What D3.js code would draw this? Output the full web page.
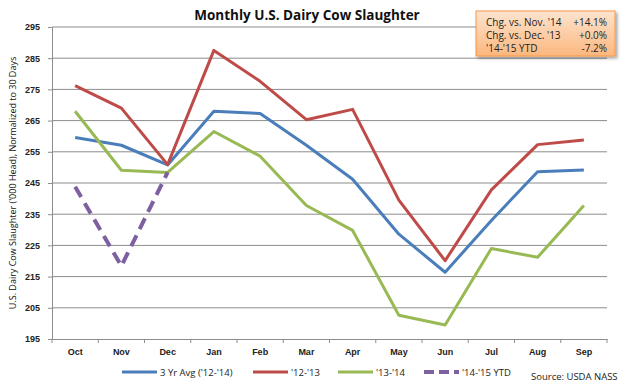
<!DOCTYPE html>
<html lang="en">
<head>
  <meta charset="UTF-8">
  <script src="https://cdn.jsdelivr.net/npm/d3@7"></script>
  <title>Monthly U.S. Dairy Cow Slaughter</title>
  <style>
    body { margin: 0; background: #fff; }
    svg { font-family: "Open Sans", "DejaVu Sans", sans-serif; }
    .tick text { font-weight: bold; font-size: 9px; fill: #222; }
  </style>
</head>
<body>
  <div class="fig"></div>
  <script>
    // ------------------ data ------------------
    const months = ["Oct", "Nov", "Dec", "Jan", "Feb", "Mar", "Apr", "May", "Jun", "Jul", "Aug", "Sep"];
    const avg3yr = [259.6, 257.1, 250.8, 268.0, 267.3, 257.1, 246.2, 228.6, 216.4, 233.0, 248.6, 249.2];
    const y1213 = [276.2, 269.0, 250.9, 287.5, 277.6, 265.3, 268.6, 239.5, 220.1, 242.8, 257.3, 258.8];
    const y1314 = [268.0, 249.1, 248.4, 261.5, 253.6, 237.8, 229.8, 202.6, 199.5, 224.0, 221.2, 237.8];
    const y1415 = [243.8, 218.4, 248.4];
    const yTicks = [195, 205, 215, 225, 235, 245, 255, 265, 275, 285, 295];
    const boxRows = [["Chg. vs. Nov. '14", "+14.1%"], ["Chg. vs. Dec. '13", "+0.0%"], ["'14-'15 YTD", "-7.2%"]];

    const series = [
      { name: "3 Yr Avg ('12-'14)", values: avg3yr, color: "#4a7ebb", dash: null },
      { name: "'12-'13", values: y1213, color: "#be4b48", dash: null },
      { name: "'13-'14", values: y1314, color: "#98b954", dash: null },
      { name: "'14-'15 YTD", values: y1415, color: "#7d60a0", dash: "12,7" }
    ];

    // ------------------ layout ------------------
    const width = 628, height = 388;
    const plot = { left: 52, right: 607, top: 27, bottom: 339 };

    const svg = d3.select(".fig").append("svg")
      .attr("width", width)
      .attr("height", height);

    const x = d3.scaleBand().domain(months).range([plot.left, plot.right]);
    const y = d3.scaleLinear().domain([195, 295]).range([plot.bottom, plot.top]);

    // gridlines
    svg.append("g")
      .selectAll("line")
      .data(yTicks.slice(1))
      .enter().append("line")
      .attr("x1", plot.left).attr("x2", plot.right)
      .attr("y1", d => y(d)).attr("y2", d => y(d))
      .attr("stroke", "#8c8c8c").attr("stroke-width", 1);

    // y axis
    const yAxis = svg.append("g")
      .attr("transform", `translate(${plot.left},0)`)
      .call(d3.axisLeft(y).tickValues(yTicks).tickSize(4).tickPadding(8));
    yAxis.selectAll("line, path").attr("stroke", "#8c8c8c");

    // x axis with ticks at category boundaries
    const xAxis = svg.append("g")
      .attr("transform", `translate(0,${plot.bottom})`)
      .call(d3.axisBottom(x).tickSize(0).tickPadding(10));
    xAxis.select("path").attr("stroke", "#8c8c8c");
    xAxis.selectAll(".bound")
      .data(months.map(m => x(m)).concat([plot.right]))
      .enter().append("line")
      .attr("x1", d => d).attr("x2", d => d)
      .attr("y1", 0).attr("y2", 4)
      .attr("stroke", "#8c8c8c");

    // lines
    const line = d3.line()
      .x((d, i) => x(months[i]) + x.bandwidth() / 2)
      .y(d => y(d));

    series.forEach(s => {
      svg.append("path")
        .datum(s.values)
        .attr("d", line)
        .attr("fill", "none")
        .attr("stroke", s.color)
        .attr("stroke-width", s.dash ? 4 : 3)
        .attr("stroke-dasharray", s.dash)
        .attr("stroke-linejoin", "round");
    });

    // title
    svg.append("text")
      .attr("x", 307).attr("y", 20)
      .attr("text-anchor", "middle")
      .attr("font-size", 13.5).attr("font-weight", "bold")
      .attr("fill", "#111")
      .text("Monthly U.S. Dairy Cow Slaughter");

    // y axis title
    svg.append("text")
      .attr("transform", "translate(16,183) rotate(-90)")
      .attr("text-anchor", "middle")
      .attr("font-size", 9)
      .attr("fill", "#111")
      .text("U.S. Dairy Cow Slaughter ('000 Head), Normalized to 30 Days");

    // info box
    const defs = svg.append("defs");
    const grad = defs.append("linearGradient").attr("id", "boxGrad")
      .attr("x1", 0).attr("y1", 0).attr("x2", 0).attr("y2", 1);
    grad.append("stop").attr("offset", "0%").attr("stop-color", "#fde4cf");
    grad.append("stop").attr("offset", "100%").attr("stop-color", "#fbb77e");
    const shadow = defs.append("filter").attr("id", "shadow")
      .attr("x", "-10%").attr("y", "-10%").attr("width", "130%").attr("height", "140%");
    shadow.append("feDropShadow").attr("dx", 2).attr("dy", 2).attr("stdDeviation", 1.5)
      .attr("flood-color", "#000").attr("flood-opacity", 0.35);

    const box = svg.append("g").attr("transform", "translate(476,11)");
    box.append("rect")
      .attr("width", 139).attr("height", 45)
      .attr("fill", "url(#boxGrad)")
      .attr("stroke", "#f79646").attr("stroke-width", 1)
      .attr("filter", "url(#shadow)");
    boxRows.forEach((r, i) => {
      box.append("text").attr("x", 10).attr("y", 14.5 + i * 13)
        .attr("font-size", 10).attr("fill", "#222").text(r[0]);
      box.append("text").attr("x", 131).attr("y", 14.5 + i * 13)
        .attr("text-anchor", "end")
        .attr("font-size", 10).attr("fill", "#222").text(r[1]);
    });

    // legend
    const legendX = [122, 253, 338, 424];
    series.forEach((s, i) => {
      const g = svg.append("g").attr("transform", `translate(${legendX[i]},372)`);
      g.append("line")
        .attr("x1", 0).attr("x2", 35)
        .attr("stroke", s.color).attr("stroke-width", s.dash ? 4 : 3)
        .attr("stroke-dasharray", s.dash ? "10,5" : null);
      g.append("text").attr("x", 38).attr("y", 3.5)
        .attr("font-size", 9.5).attr("fill", "#222")
        .text(s.name);
    });

    svg.append("text")
      .attr("x", 531).attr("y", 380)
      .attr("font-size", 9.5).attr("fill", "#222")
      .text("Source: USDA NASS");
  </script>
</body>
</html>
